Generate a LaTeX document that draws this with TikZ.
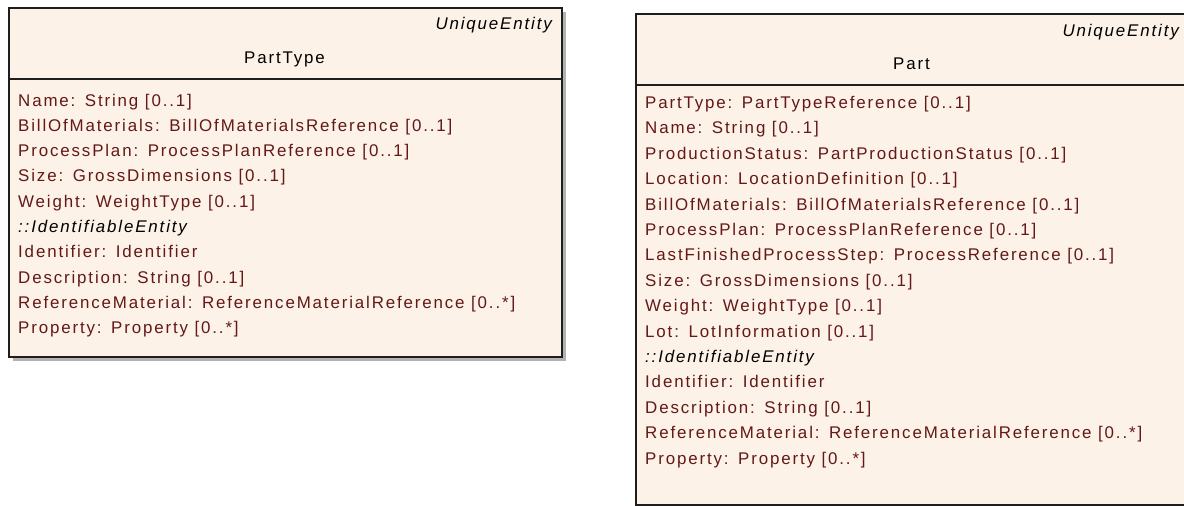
\documentclass[tikz,border=0pt]{standalone}
\usepackage{fontspec}
\setmainfont{Liberation Sans}[LetterSpace=11]
\definecolor{boxfill}{RGB}{252,242,231}
\definecolor{attrcol}{RGB}{100,24,24}
\definecolor{shadowgray}{RGB}{178,178,178}
\definecolor{bordercol}{RGB}{30,30,30}
\newcommand{\csep}{:\ \hspace{3pt}}
\begin{document}
\begin{tikzpicture}[x=1pt,y=-1pt,
  umlbox/.style={draw=bordercol, line width=1.5pt, fill=boxfill, inner sep=0pt, anchor=north west, minimum width=553pt},
  seprule/.style={draw=bordercol, line width=1.5pt},
  basefont/.style={inner sep=0pt, font=\fontsize{16.9}{20}\selectfont},
  attrtext/.style={basefont, anchor=base west, text=attrcol},
  inhtext/.style={basefont, anchor=base west, text=black, font=\fontsize{16.9}{20}\selectfont\itshape},
  titletext/.style={basefont, anchor=base, text=black},
  stereotext/.style={basefont, anchor=base east, text=black, font=\fontsize{16.9}{20}\selectfont\itshape}]
\useasboundingbox (0,0) rectangle (1184,506);
\fill[white] (0,0) rectangle (1184,506);
% ---------- PartType ----------
\fill[shadowgray] (13,12) rectangle (566,361);
\node[umlbox, minimum height=349pt] (pt) at (8,7) {};
\coordinate (ptsep) at (0,79);
\draw[seprule] (pt.west |- ptsep) -- (pt.east |- ptsep);
\node[stereotext] (ptst) at (552,30) {UniqueEntity};
\node[titletext] (ptname) at (284.5,63) {PartType};
\node[attrtext] (pa1) at (18,106.0) {Name\csep String [0..1]};
\node[attrtext] (pa2) at (18,131.3) {BillOfMaterials\csep BillOfMaterialsReference [0..1]};
\node[attrtext] (pa3) at (18,156.6) {ProcessPlan\csep ProcessPlanReference [0..1]};
\node[attrtext] (pa4) at (18,181.9) {Size\csep GrossDimensions [0..1]};
\node[attrtext] (pa5) at (18,207.2) {Weight\csep WeightType [0..1]};
\node[inhtext] (pa6) at (18,232.5) {::IdentifiableEntity};
\node[attrtext] (pa7) at (18,257.8) {Identifier\csep Identifier};
\node[attrtext] (pa8) at (18,283.1) {Description\csep String [0..1]};
\node[attrtext] (pa9) at (18,308.4) {ReferenceMaterial\csep ReferenceMaterialReference [0..*]};
\node[attrtext] (pa10) at (18,333.7) {Property\csep Property [0..*]};
% ---------- Part ----------
\fill[shadowgray] (640,18) rectangle (1193,509);
\node[umlbox, minimum height=491pt] (p) at (635,13) {};
\coordinate (psep) at (0,85);
\draw[seprule] (p.west |- psep) -- (p.east |- psep);
\node[stereotext] (pst) at (1179,36) {UniqueEntity};
\node[titletext] (pname) at (911.5,69) {Part};
\node[attrtext] (b1) at (645,108.5) {PartType\csep PartTypeReference [0..1]};
\node[attrtext] (b2) at (645,133.9) {Name\csep String [0..1]};
\node[attrtext] (b3) at (645,159.3) {ProductionStatus\csep PartProductionStatus [0..1]};
\node[attrtext] (b4) at (645,184.7) {Location\csep LocationDefinition [0..1]};
\node[attrtext] (b5) at (645,210.1) {BillOfMaterials\csep BillOfMaterialsReference [0..1]};
\node[attrtext] (b6) at (645,235.5) {ProcessPlan\csep ProcessPlanReference [0..1]};
\node[attrtext] (b7) at (645,260.9) {LastFinishedProcessStep\csep ProcessReference [0..1]};
\node[attrtext] (b8) at (645,286.3) {Size\csep GrossDimensions [0..1]};
\node[attrtext] (b9) at (645,311.7) {Weight\csep WeightType [0..1]};
\node[attrtext] (b10) at (645,337.1) {Lot\csep LotInformation [0..1]};
\node[inhtext] (b11) at (645,362.5) {::IdentifiableEntity};
\node[attrtext] (b12) at (645,387.9) {Identifier\csep Identifier};
\node[attrtext] (b13) at (645,413.3) {Description\csep String [0..1]};
\node[attrtext] (b14) at (645,438.7) {ReferenceMaterial\csep ReferenceMaterialReference [0..*]};
\node[attrtext] (b15) at (645,464.1) {Property\csep Property [0..*]};
\end{tikzpicture}
\end{document}
